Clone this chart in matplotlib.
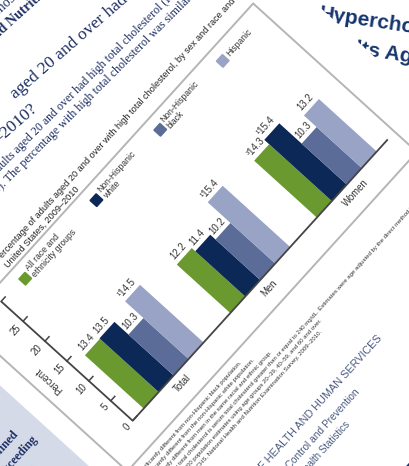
import matplotlib.pyplot as plt
from matplotlib.transforms import Affine2D
from matplotlib.patches import Rectangle

# valeurs de la figure (pourcentage, cholesterol total eleve)
groups = ["Total", "Men", "Women"]
series = ["All race and\nethnicity groups", "Non-Hispanic\nwhite", "Non-Hispanic\nblack", "Hispanic"]
all_groups = [13.4, 12.2, 14.3]
nh_white = [13.5, 11.4, 15.4]
nh_black = [10.3, 10.2, 10.3]
hispanic = [14.5, 15.4, 13.2]
marks = [["", "", "", "¹"], ["", "", "", "¹"], ["³", "¹", "", ""]]
yticks = [0, 5, 10, 15, 20, 25, 30]
colors = ["#6a9a2f", "#0b2857", "#5b6c98", "#98a3c5"]

notes = ["¹Significantly different from non-Hispanic black population.",
         "²Significantly different from the non-Hispanic white population.",
         "³Significantly different from men in the same racial and ethnic group.",
         "NOTES: High total cholesterol is serum total cholesterol greater than or equal to 240 mg/dL. Estimates were age adjusted by the direct method to the",
         "U.S. Census 2000 population estimates using age groups 20–39, 40–59, and 60 and over.",
         "SOURCE: CDC/NCHS, National Health and Nutrition Examination Survey, 2009–2010."]

fig = plt.figure(figsize=(4.1, 4.66), dpi=100, facecolor="white")
ax = fig.add_axes([0, 0, 1, 1])
ax.set_xlim(0, 410)
ax.set_ylim(466, 0)
ax.axis("off")

# page tournee : repere (u, v) en pixels, origine au coin du graphique
theta = 47.8
page = Affine2D().rotate_deg(theta).scale(1, -1).translate(132.7, 420.7) + ax.transData
xmin, xmax, ytop = -0.473, 2.473, 30
ux, uy = 128.9, 5.92
chart = Affine2D().translate(-xmin, 0).scale(ux, uy) + page

navy = "#1d2f63"
sans = "Liberation Sans"
serif = "Liberation Serif"
fs = 6.9


def ptext(u, v, s, tr=page, rot=theta, **kw):
    kw.setdefault("rotation_mode", "anchor")
    kw.setdefault("family", sans)
    return ax.text(u, v, s, transform=tr, rotation=rot, **kw)


# titre de la page du dessous
ax.text(318, 19, "Hypercholesterolemia", rotation=-8.5, rotation_mode="anchor",
        fontsize=15, fontweight="bold", color="#17356e", family=sans, zorder=0)
ax.text(315, 48, "Adults Aged 20 and Over", rotation=-8.5, rotation_mode="anchor",
        fontsize=15, fontweight="bold", color="#17356e", family=sans, zorder=0)

# feuille blanche par-dessus
ax.add_patch(Rectangle((-2000, -2000), 2432, 4000, facecolor="white", edgecolor="none",
                       transform=page, zorder=1))
# bandeau bleu en bas
ax.add_patch(Rectangle((-2000, -2000), 2432, 1767, facecolor="#1a3570", edgecolor="none",
                       transform=page, zorder=1.5))
# encadre bleu clair a gauche
ax.add_patch(Rectangle((-2000, -600), 1937, 740, facecolor="#d5dae9", edgecolor="none",
                       transform=page, zorder=1.5))
box_lines = [("High total cholesterol is defined", 78, -87),
             ("as a serum level equal to or exceeding", 61, -78),
             ("240 mg/dL.", 44, -99)]
for s, v, u in box_lines:
    ptext(u, v, s, ha="right", va="center", fontsize=8.6, fontweight="bold",
          family=serif, color=navy, zorder=2)

# cadre du graphique
ax.add_patch(Rectangle((-41, -30), 431, 221, facecolor="none", edgecolor="#b5b5b5",
                       lw=1.4, transform=page, zorder=2))

# barres
vals = [all_groups, nh_white, nh_black, hispanic]
bw = 0.173
for i, (ser, col) in enumerate(zip(vals, colors)):
    xs = [g + (i - 1.5) * bw for g in range(len(groups))]
    ax.bar(xs, ser, bw, color=col, linewidth=0, transform=chart, zorder=3)
    for g, (x, v) in enumerate(zip(xs, ser)):
        ptext(x, v + 0.5, f"{marks[g][i]}{v:.1f}", tr=chart, ha="center", va="bottom",
              fontsize=fs, color="#333333", zorder=4)

# axes
ax.plot([xmin, xmax], [0, 0], color="#444444", lw=1.3, transform=chart, zorder=4,
        solid_capstyle="butt")
ax.plot([xmin, xmin], [0, ytop], color="#444444", lw=1.3, transform=chart, zorder=4,
        solid_capstyle="butt")
for t in yticks:
    ax.plot([xmin, xmin + 6 / ux], [t, t], color="#444444", lw=1.1, transform=chart, zorder=4)
    ptext(xmin - 6 / ux, t, str(t), tr=chart, ha="right", va="center", fontsize=fs,
          color="#333333", zorder=4)
ptext(xmin - 26 / ux, ytop / 2, "Percent", tr=chart, rot=theta + 90, ha="center",
      va="center", fontsize=fs, color="#333333", zorder=4)
for g, name in enumerate(groups):
    ptext(g, -12 / uy, name, tr=chart, ha="center", va="center", fontsize=fs,
          color="#333333", zorder=4)

# legende
leg_u = [33, 139, 234, 327]
for u, lab, col in zip(leg_u, series, colors):
    ax.add_patch(Rectangle((u - 4.5, 170.5), 9, 9, color=col, transform=page, zorder=3))
    ptext(u + 8, 175, lab, ha="left", va="center", fontsize=6.2, linespacing=1.0,
          color="#333333", zorder=3)

# titre de la figure
ptext(362, 208, "Figure 1. Percentage of adults aged 20 and over with high total cholesterol, by sex and race",
      ha="right", va="center", fontsize=6.6, color="#222222", zorder=2)
ptext(365, 208, "and ethnicity:", ha="left", va="center", fontsize=6.6, color="#222222", zorder=2)
ptext(136, 197, "United States, 2009–2010", ha="right", va="center", fontsize=6.6,
      color="#222222", zorder=2)

# notes
for k, s in enumerate(notes):
    ptext(-38, -40 - 8 * k, s, ha="left", va="center", fontsize=4.3, color="#333333", zorder=2)

# pied de page
ptext(228, -127, "U.S. DEPARTMENT OF HEALTH AND HUMAN SERVICES", ha="right", va="center",
      fontsize=7.8, color="#4a5a80", zorder=2)
ptext(174, -146, "Centers for Disease Control and Prevention", ha="right", va="center",
      fontsize=7.3, color="#4a5a80", zorder=2)
ptext(143, -161, "National Center for Health Statistics", ha="right", va="center",
      fontsize=7.0, color="#4a5a80", zorder=2)


# texte du haut de la page
def itext(x, y, s, rot, **kw):
    kw.setdefault("rotation_mode", "anchor")
    kw.setdefault("family", serif)
    kw.setdefault("color", navy)
    kw.setdefault("zorder", 2)
    return ax.text(x, y, s, rotation=rot, **kw)


itext(-1, 15, "most recent data", 42, ha="left", va="baseline", fontsize=10)
itext(-1, 15, "Data from the ", 42, ha="right", va="baseline", fontsize=10)
itext(-8, 44, "and Nutrition Examination Survey", 42, ha="left", va="baseline", fontsize=10,
      fontweight="bold")
itext(-8, 44, "National Health ", 42, ha="right", va="baseline", fontsize=10, fontweight="bold")
itext(15, 99, "aged 20 and over had high total cholesterol", 41, ha="left", va="baseline",
      fontsize=12.6)
itext(38, 110, "in 2009–2010?", 41, ha="right", va="baseline", fontsize=12.6)
itext(-4, 176, "adults aged 20 and over had high total cholesterol (Figure", 45, ha="left",
      va="baseline", fontsize=8.6)
itext(-4, 176, "In 2009–2010, 13.4% of ", 45, ha="right", va="baseline", fontsize=8.6)
itext(-2, 194, "1). The percentage with high total cholesterol was similar for men and women.", 45,
      ha="left", va="baseline", fontsize=8.6)

fig.savefig("out.png", dpi=100, facecolor="white")
